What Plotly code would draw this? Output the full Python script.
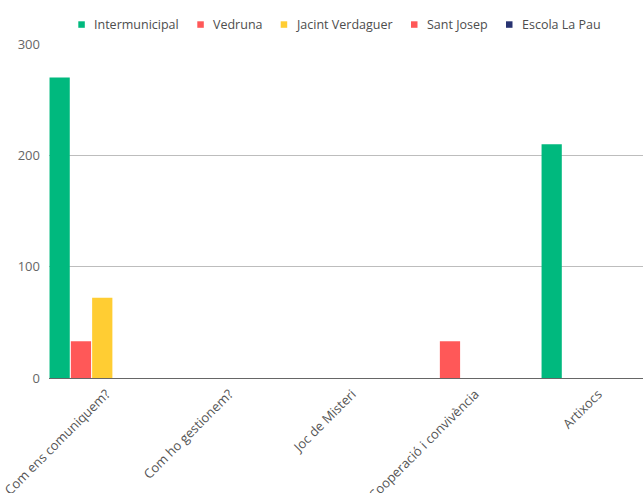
import plotly.graph_objects as go

# ---- data ----
categories = ["Com ens comuniquem?", "Com ho gestionem?", "Joc de Misteri",
              "Cooperació i convivència", "Artixocs"]
series_names = ["Intermunicipal", "Vedruna", "Jacint Verdaguer", "Sant Josep", "Escola La Pau"]
intermunicipal = [270, 0, 0, 0, 210]
vedruna = [33, 0, 0, 33, 0]
jacint_verdaguer = [72, 0, 0, 0, 0]
sant_josep = [0, 0, 0, 0, 0]
escola_la_pau = [0, 0, 0, 0, 0]
y_ticks = [0, 100, 200, 300]

series_values = [intermunicipal, vedruna, jacint_verdaguer, sant_josep, escola_la_pau]
colors = ["#00B97E", "#FF5858", "#FFCD33", "#FF5858", "#283371"]

# ---- layout geometry (page body margin removed by post_script) ----
W, H = 643, 493
ML, MR, MT = 49, 0, 44
MB = H - 378
PW = W - ML - MR
PH = H - MT - MB


def px_x(px):
    return (px - ML) / PW


def px_y(py):
    return (H - MB - py) / PH


fig = go.Figure()
for name, vals, col in zip(series_names, series_values, colors):
    fig.add_trace(go.Bar(name=name, x=categories, y=vals, marker_color=col,
                         marker_line_width=0, showlegend=False))

# manual legend (small squares + text)
swatch_left = [78.3, 197.3, 280.7, 411, 506]
shapes = []
annotations = []
for name, col, sx in zip(series_names, colors, swatch_left):
    shapes.append(dict(type="rect", xref="paper", yref="paper",
                       x0=px_x(sx), x1=px_x(sx + 6.5),
                       y0=px_y(27.8), y1=px_y(21.3),
                       fillcolor=col, line_width=0))
    annotations.append(dict(xref="paper", yref="paper", x=px_x(sx + 13.5), y=px_y(24.5),
                            xanchor="left", yanchor="middle", showarrow=False,
                            text=name, font=dict(size=12.5, color="#4d4d4d")))

fig.update_layout(
    width=W, height=H,
    margin=dict(l=ML, r=MR, t=MT, b=MB, pad=0, autoexpand=False),
    paper_bgcolor="white", plot_bgcolor="white",
    font=dict(family="Open Sans", color="#666"),
    barmode="group", bargap=0.134, bargroupgap=0.05,
    showlegend=False,
    shapes=shapes, annotations=annotations,
    xaxis=dict(type="category", range=[-0.433, 4.396], tickangle=-45,
               showgrid=False, showline=False, ticks="", automargin=False,
               ticklabelstandoff=5, ticklabelshift=4,
               tickfont=dict(size=13, color="#555")),
    yaxis=dict(range=[0, 300], tickvals=y_ticks, showgrid=True, gridcolor="#bdbdbd",
               gridwidth=1, zeroline=True, zerolinecolor="#666", zerolinewidth=1,
               showline=False, ticks="", ticklabelstandoff=8, automargin=False,
               tickfont=dict(size=13, color="#666")),
)

fig.write_html("out.html",
               config={"displayModeBar": False},
               post_script="document.body.style.margin='0';document.body.style.overflow='hidden';")
